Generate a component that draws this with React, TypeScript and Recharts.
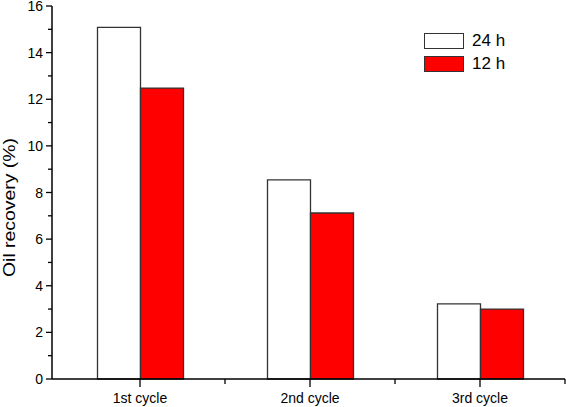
import React from 'react';
import { BarChart, Bar, XAxis, YAxis } from 'recharts';

const categories = ['1st cycle', '2nd cycle', '3rd cycle'];
const h24 = [15.08, 8.54, 3.22];
const h12 = [12.48, 7.12, 3.0];
const yTicks = [0, 1, 2, 3, 4, 5, 6, 7, 8, 9, 10, 11, 12, 13, 14, 15, 16];
const seriesNames = ['24 h', '12 h'];
const seriesFills = ['#ffffff', '#ff0000'];

const data = categories.map((c, i) => ({ name: c, h24: h24[i], h12: h12[i] }));

const W = 566;
const H = 407;
const M = { top: 6, right: 1, left: 0, bottom: 0 };
const YW = 52;
const XH = 28;
const XPAD = 3;
const plotW = W - M.left - M.right - YW - XPAD;
const halfBand = plotW / categories.length / 2;
const FONT = '"Liberation Sans", Arial, sans-serif';

const YTick = (props: any) => {
  const { x, y, payload } = props;
  const axisX = x + 2;
  const v = payload.value;
  const major = v % 2 === 0;
  return (
    <g>
      <line x1={axisX} x2={axisX - (major ? 6 : 4)} y1={y} y2={y} stroke="#000" strokeWidth={1.3} />
      {major && (
        <text x={axisX - 9} y={y} dy={5} textAnchor="end" fontSize={14} fontFamily={FONT} fill="#000">
          {v}
        </text>
      )}
    </g>
  );
};

const XTick = (props: any) => {
  const { x, y, payload } = props;
  const axisY = y - 2;
  return (
    <g>
      <line x1={x} x2={x} y1={axisY} y2={axisY + 8} stroke="#000" strokeWidth={1.3} />
      <line x1={x + halfBand} x2={x + halfBand} y1={axisY} y2={axisY + 5} stroke="#000" strokeWidth={1.3} />
      <text x={x} y={axisY + 24} textAnchor="middle" fontSize={14} fontFamily={FONT} fill="#000">
        {payload.value}
      </text>
    </g>
  );
};

const LegendBox = () => (
  <div
    style={{
      position: 'absolute',
      left: 424,
      top: 29,
      fontFamily: FONT,
      fontSize: 17,
      color: '#000',
    }}
  >
    {seriesNames.map((n, i) => (
      <div key={n} style={{ display: 'flex', alignItems: 'center', height: 23 }}>
        <div style={{ width: 38, height: 14, border: '1.3px solid #333', background: seriesFills[i] }} />
        <span style={{ marginLeft: 8 }}>{n}</span>
      </div>
    ))}
  </div>
);

const YLabel = () => (
  <text
    x={0}
    y={0}
    transform="translate(15, 207.5) rotate(-90)"
    textAnchor="middle"
    fontSize={16}
    fontFamily={FONT}
    fill="#000"
    textLength={139}
    lengthAdjust="spacingAndGlyphs"
  >
    Oil recovery (%)
  </text>
);

export default function App() {
  return (
    <div style={{ position: 'absolute', left: 0, top: 0, width: W, height: H, background: '#fff' }}>
      <BarChart width={W} height={H} data={data} margin={M} barGap={0} barCategoryGap="25%">
        <XAxis
          dataKey="name"
          height={XH}
          tickSize={0}
          tickMargin={2}
          tick={<XTick />}
          axisLine={{ stroke: '#000', strokeWidth: 1.5 }}
          interval={0}
          padding={{ left: XPAD, right: 0 }}
        />
        <YAxis
          width={YW}
          domain={[0, 16]}
          ticks={yTicks}
          interval={0}
          tickSize={0}
          tickMargin={2}
          tick={<YTick />}
          axisLine={{ stroke: '#000', strokeWidth: 1.5 }}
          label={<YLabel />}
        />
        <Bar dataKey="h24" fill={seriesFills[0]} stroke="#333" strokeWidth={1.3} isAnimationActive={false} />
        <Bar dataKey="h12" fill={seriesFills[1]} stroke="#333" strokeWidth={1.3} isAnimationActive={false} />
      </BarChart>
      <LegendBox />
    </div>
  );
}
